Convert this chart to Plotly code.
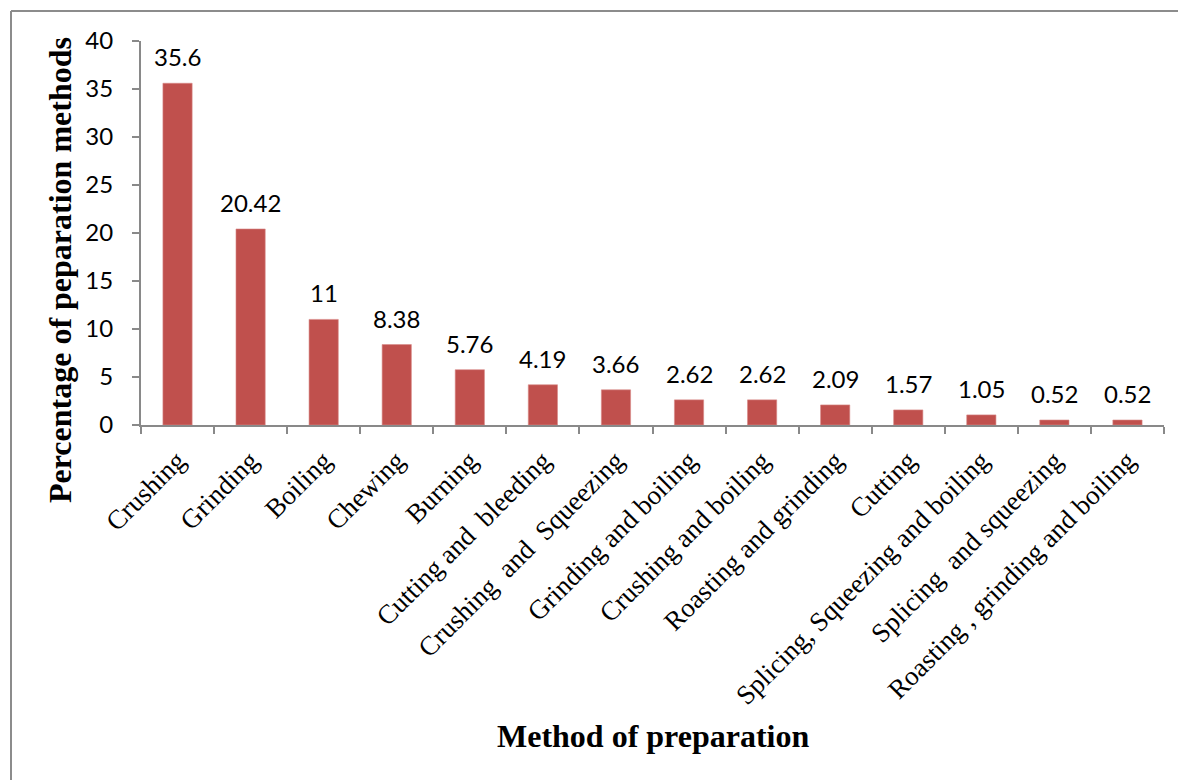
import plotly.graph_objects as go

methods = [
    "Crushing", "Grinding", "Boiling", "Chewing", "Burning",
    "Cutting and\u00a0\u00a0bleeding", "Crushing\u00a0\u00a0and\u00a0\u00a0Squeezing",
    "Grinding and boiling", "Crushing and boiling", "Roasting and grinding",
    "Cutting", "Splicing, Squeezing and boiling", "Splicing\u00a0\u00a0and squeezing",
    "Roasting , grinding and boiling",
]
percentages = [35.6, 20.42, 11, 8.38, 5.76, 4.19, 3.66, 2.62, 2.62, 2.09, 1.57, 1.05, 0.52, 0.52]
y_ticks = [0, 5, 10, 15, 20, 25, 30, 35, 40]

BAR = "#C0504D"
AXIS = "#898989"
SERIF = "Liberation Serif, Times New Roman, serif"
SANS = "Lato, Carlito, Calibri, sans-serif"

fig = go.Figure(go.Bar(
    x=methods, y=percentages,
    marker=dict(color=BAR, line=dict(color="#D98A88", width=0.6)),
    width=0.4,
))

# value labels above each bar
for m, v in zip(methods, percentages):
    fig.add_annotation(x=m, y=v, text=f"{v:g}", showarrow=False,
                       yanchor="bottom", yshift=10,
                       font=dict(family=SANS, size=24, color="#000"))

# axis titles
fig.add_annotation(xref="paper", yref="paper", x=0.5, y=-0.81,
                   text="<b>Method of preparation</b>", showarrow=False,
                   xanchor="center", yanchor="middle",
                   font=dict(family=SERIF, size=32, color="#000"))
fig.add_annotation(xref="paper", yref="paper", x=-0.079, y=0.404,
                   text="<b>Percentage of peparation methods</b>", showarrow=False,
                   textangle=-90, xanchor="center", yanchor="middle",
                   font=dict(family=SERIF, size=32, color="#000"))

# outer frame (left and top edges)
fig.add_shape(type="line", xref="paper", yref="paper",
              x0=(11 - 141) / 1023, x1=(11 - 141) / 1023, y0=1 + 30 / 384, y1=-1.2,
              line=dict(color="#8C8C8C", width=2))
fig.add_shape(type="line", xref="paper", yref="paper",
              x0=(11 - 141) / 1023, x1=1.1, y0=1 + 30 / 384, y1=1 + 30 / 384,
              line=dict(color="#8C8C8C", width=2))

fig.update_layout(
    width=1178, height=780,
    margin=dict(l=141, r=14, t=41, b=355, autoexpand=False),
    paper_bgcolor="white", plot_bgcolor="white",
    showlegend=False, bargap=0.6,
)
fig.update_xaxes(
    type="category", tickson="boundaries", ticks="outside", ticklen=7,
    tickcolor=AXIS, tickwidth=2, showline=True, linecolor=AXIS, linewidth=2,
    tickangle=-45, tickfont=dict(family=SERIF, size=27, color="#000"),
    ticklabelstandoff=7,
    showgrid=False, automargin=False,
)
fig.update_yaxes(
    range=[0, 40], tickvals=y_ticks, ticks="outside", ticklen=7,
    tickcolor=AXIS, tickwidth=2, showline=True, linecolor=AXIS, linewidth=2,
    tickfont=dict(family=SANS, size=24, color="#000"), ticklabelstandoff=14,
    showgrid=False, zeroline=False, automargin=False,
)

fig.write_html("out.html")
